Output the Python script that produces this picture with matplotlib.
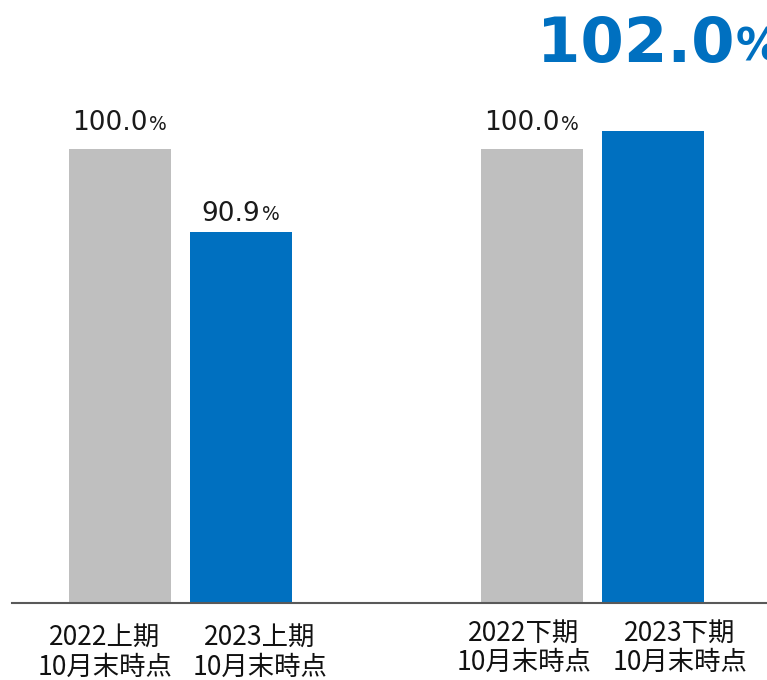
import matplotlib.pyplot as plt
import numpy as np

# データ
categories_top = ["2022上期", "2023上期", "2022下期", "2023下期"]
categories_bottom = ["10月末時点", "10月末時点", "10月末時点", "10月末時点"]
values = [100.0, 90.9, 100.0, 102.0]
value_labels = ["100.0", "90.9", "100.0", "102.0"]

GRAY = "#BFBFBF"
BLUE = "#0070C0"
colors = [GRAY, BLUE, GRAY, BLUE]
x = np.array([0.0, 1.0, 3.405, 4.405])

PX = 0.72  # 1px -> points (dpi=100)

fig = plt.figure(figsize=(7.67, 6.80), dpi=100)
ax = fig.add_axes([12 / 767, 77 / 680, 755 / 767, 603 / 680])

ax.bar(x, [v - 50 for v in values], bottom=50, width=0.843, color=colors, zorder=1)
ax.set_xlim(-0.893, 5.347)
ax.set_ylim(50, 50 + 603 / 9.08)

for s in ["top", "right", "left"]:
    ax.spines[s].set_visible(False)
ax.spines["bottom"].set_color("#595959")
ax.spines["bottom"].set_linewidth(1.5)
ax.spines["bottom"].set_zorder(3)
ax.set_xticks([])
ax.set_yticks([])

# 値ラベル (最後の棒だけ大きく表示)
label_gap = [19, 11, 19]
for i in range(3):
    t = ax.annotate(value_labels[i], xy=(x[i], values[i]), xytext=(-10 * PX, label_gap[i] * PX),
                    textcoords="offset points", ha="center", va="baseline",
                    fontsize=19, family="DejaVu Sans", color="#1a1a1a")
    ax.annotate("%", xy=(1, 0), xycoords=t, xytext=(1, 0.236 * 19), textcoords="offset points",
                ha="left", va="baseline", fontsize=13.5, family="DejaVu Sans", color="#1a1a1a")

big = ax.annotate(value_labels[3], xy=(x[3], values[3]), xytext=(-116 * PX, 69 * PX),
                  textcoords="offset points", ha="left", va="baseline",
                  fontsize=45, fontweight="bold", family="DejaVu Sans", color=BLUE,
                  annotation_clip=False)
ax.annotate("%", xy=(1, 0), xycoords=big, xytext=(1, 0.236 * 45), textcoords="offset points",
            ha="left", va="baseline", fontsize=32, fontweight="bold", family="DejaVu Sans",
            color=BLUE, annotation_clip=False)

# カテゴリラベル
label_dx = [-15, 19, -8, 27]
line1_dy = [-34, -34, -30, -30]
line2_dy = [-64, -64, -59, -59]
jp = ["Noto Sans CJK JP", "DejaVu Sans"]
for i in range(4):
    ax.annotate(categories_top[i], xy=(x[i], 50), xytext=(label_dx[i] * PX, line1_dy[i] * PX),
                textcoords="offset points", ha="center", va="center", fontsize=19,
                family=jp, color="#111111", annotation_clip=False)
    ax.annotate(categories_bottom[i], xy=(x[i], 50), xytext=(label_dx[i] * PX, line2_dy[i] * PX),
                textcoords="offset points", ha="center", va="center", fontsize=19,
                family=jp, color="#111111", annotation_clip=False)

fig.savefig("out.png", dpi=100)
